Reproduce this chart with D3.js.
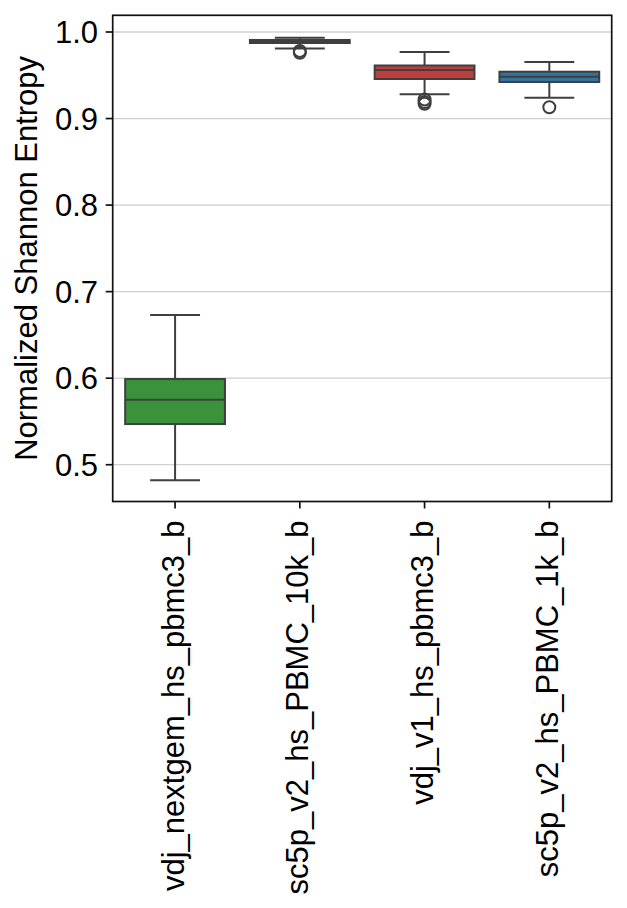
<!DOCTYPE html>
<html>
<head>
<meta charset="utf-8">
<script src="https://cdn.jsdelivr.net/npm/d3@7"></script>
<style>
  html, body { margin: 0; padding: 0; background: #ffffff; }
  svg { display: block; }
  text { font-family: "Liberation Sans", Arial, sans-serif; fill: #000; }
</style>
</head>
<body>
<svg id="chart" width="627" height="908"></svg>
<script>
const categories = ["vdj_nextgem_hs_pbmc3_b", "sc5p_v2_hs_PBMC_10k_b", "vdj_v1_hs_pbmc3_b", "sc5p_v2_hs_PBMC_1k_b"];
const colors = ["#3a923a", "#e1812c", "#c03d3e", "#3274a1"];
const whiskerLow  = [0.482, 0.981, 0.928, 0.924];
const q1          = [0.547, 0.9873, 0.9457, 0.9422];
const median      = [0.575, 0.989, 0.956, 0.9483];
const q3          = [0.599, 0.9908, 0.9613, 0.9541];
const whiskerHigh = [0.673, 0.9935, 0.977, 0.9653];
const outliers    = [[], [0.978, 0.976], [0.922, 0.919, 0.917], [0.913]];
const yTicks = [0.5, 0.6, 0.7, 0.8, 0.9, 1.0];
const yLabel = "Normalized Shannon Entropy";

(function () {
const svg = d3.select("#chart");
const mLeft = 112.7, mRight = 611.7, mTop = 15.3, mBottom = 501.5;
const fontSize = 31;
const lineColor = "#3f3f3f";

const x = d3.scaleBand().domain(categories).range([mLeft, mRight]).paddingInner(0).paddingOuter(0);
const y = d3.scaleLinear().domain([0.4575, 1.0193]).range([mBottom, mTop]);

svg.append("g").selectAll("line").data(yTicks).join("line")
  .attr("x1", mLeft).attr("x2", mRight)
  .attr("y1", d => y(d)).attr("y2", d => y(d))
  .attr("stroke", "#d0d0d0").attr("stroke-width", 1.3);

const boxW = x.bandwidth() * 0.8;
const data = categories.map((c, i) => ({
  c, i, lo: whiskerLow[i], q1: q1[i], med: median[i], q3: q3[i], hi: whiskerHigh[i], out: outliers[i]
}));

const g = svg.append("g");
data.forEach(d => {
  const cx = x(d.c) + x.bandwidth() / 2;
  g.append("line").attr("x1", cx).attr("x2", cx).attr("y1", y(d.q3)).attr("y2", y(d.hi))
    .attr("stroke", lineColor).attr("stroke-width", 2);
  g.append("line").attr("x1", cx).attr("x2", cx).attr("y1", y(d.q1)).attr("y2", y(d.lo))
    .attr("stroke", lineColor).attr("stroke-width", 2);
  [d.hi, d.lo].forEach(v => {
    g.append("line").attr("x1", cx - boxW / 4).attr("x2", cx + boxW / 4)
      .attr("y1", y(v)).attr("y2", y(v))
      .attr("stroke", lineColor).attr("stroke-width", 2);
  });
  g.append("rect").attr("x", cx - boxW / 2).attr("width", boxW)
    .attr("y", y(d.q3)).attr("height", y(d.q1) - y(d.q3))
    .attr("fill", colors[d.i]).attr("stroke", lineColor).attr("stroke-width", 2);
  g.append("line").attr("x1", cx - boxW / 2).attr("x2", cx + boxW / 2)
    .attr("y1", y(d.med)).attr("y2", y(d.med))
    .attr("stroke", lineColor).attr("stroke-width", 2);
  g.selectAll(null).data(d.out).join("circle")
    .attr("cx", cx).attr("cy", v => y(v)).attr("r", 6)
    .attr("fill", "none").attr("stroke", lineColor).attr("stroke-width", 2);
});

svg.append("rect").attr("x", mLeft).attr("y", mTop).attr("width", mRight - mLeft).attr("height", mBottom - mTop)
  .attr("fill", "none").attr("stroke", "#111").attr("stroke-width", 1.7);

const yt = svg.append("g");
yTicks.forEach(v => {
  yt.append("line").attr("x1", mLeft - 7).attr("x2", mLeft).attr("y1", y(v)).attr("y2", y(v))
    .attr("stroke", "#111").attr("stroke-width", 1.7);
  yt.append("text").attr("x", 98).attr("y", y(v)).attr("dy", "0.36em")
    .attr("text-anchor", "end").style("font-size", fontSize + "px").text(d3.format(".1f")(v));
});

const xt = svg.append("g");
categories.forEach(c => {
  const cx = x(c) + x.bandwidth() / 2;
  xt.append("line").attr("x1", cx).attr("x2", cx).attr("y1", mBottom).attr("y2", mBottom + 7)
    .attr("stroke", "#111").attr("stroke-width", 1.7);
  xt.append("text").attr("transform", `translate(${cx},${mBottom + 19}) rotate(-90)`)
    .attr("x", 0).attr("y", 0).attr("dy", 8.5)
    .attr("text-anchor", "end").style("font-size", fontSize + "px").text(c);
});

svg.append("text").attr("transform", `translate(37,${(mTop + mBottom) / 2}) rotate(-90)`)
  .attr("text-anchor", "middle").style("font-size", fontSize + "px").text(yLabel);
})();
</script>
</body>
</html>
